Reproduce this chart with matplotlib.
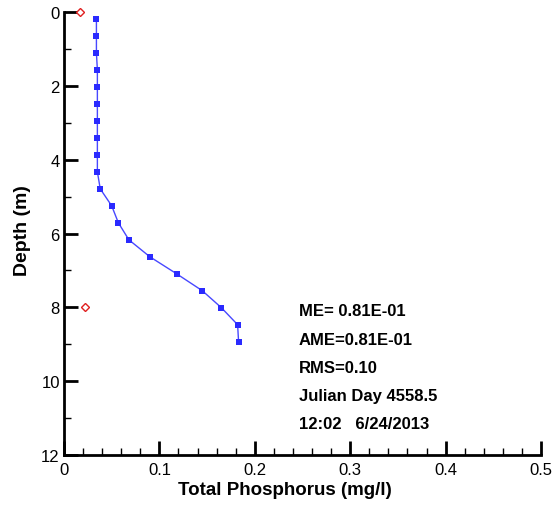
import matplotlib
matplotlib.use("Agg")
import matplotlib.pyplot as plt
from matplotlib.ticker import MultipleLocator

plt.rcParams['font.family'] = ['Liberation Sans', 'DejaVu Sans']

# Model profile (blue squares)
model_depth = [0.19, 0.65, 1.11, 1.57, 2.03, 2.49, 2.95, 3.41, 3.87, 4.33,
               4.79, 5.25, 5.71, 6.17, 6.63, 7.09, 7.55, 8.01, 8.47, 8.93]
model_tp = [0.034, 0.034, 0.034, 0.035, 0.035, 0.035, 0.035, 0.035, 0.035, 0.035,
            0.038, 0.050, 0.057, 0.068, 0.090, 0.118, 0.145, 0.165, 0.182, 0.183]

# Observed (red diamonds)
obs_depth = [0.0, 8.0]
obs_tp = [0.0165, 0.022]

x_ticks = [0, 0.1, 0.2, 0.3, 0.4, 0.5]
x_ticklabels = ['0', '0.1', '0.2', '0.3', '0.4', '0.5']

stats_lines = ["ME= 0.81E-01", "AME=0.81E-01", "RMS=0.10",
               "Julian Day 4558.5", "12:02   6/24/2013"]

fig = plt.figure(figsize=(5.54, 5.06), dpi=100)
ax = fig.add_axes([0.1155, 0.0988, 0.861, 0.8755])

ax.plot(model_tp, model_depth, color='#4848ff', lw=1.0, marker='s',
        markersize=5, markeredgewidth=0, markerfacecolor='#2a2aff', zorder=3,
        clip_on=False)
ax.plot(obs_tp, obs_depth, linestyle='none', marker='D', markersize=4.5,
        markerfacecolor='white', markeredgecolor='#e02020', markeredgewidth=1.0,
        zorder=4, clip_on=False)

ax.set_xlim(0, 0.5)
ax.set_ylim(12, 0)

ax.set_xticks(x_ticks)
ax.set_xticklabels(x_ticklabels)
ax.xaxis.set_minor_locator(MultipleLocator(0.02))
ax.yaxis.set_major_locator(MultipleLocator(2))
ax.yaxis.set_minor_locator(MultipleLocator(1))

for s in ['top', 'right']:
    ax.spines[s].set_visible(False)
for s in ['left', 'bottom']:
    ax.spines[s].set_linewidth(2.0)

ax.tick_params(which='major', direction='in', length=10, width=2.0,
               labelsize=12, pad=3)
ax.tick_params(axis='x', which='major', pad=5)
ax.tick_params(which='minor', direction='in', length=5, width=1.0)

ax.set_xlabel('Total Phosphorus (mg/l)', fontsize=13.5, fontweight='bold')
ax.xaxis.set_label_coords(0.463, -0.058)
ax.set_ylabel('Depth (m)', fontsize=14, fontweight='bold')
ax.yaxis.set_label_coords(-0.07, 0.51)

y0 = 312
for i, line in enumerate(stats_lines):
    fig.text(299 / 554, 1 - (y0 + 28.2 * i) / 506, line, fontsize=12,
             fontweight='bold', va='center', ha='left')

fig.savefig('out.png', dpi=100)
